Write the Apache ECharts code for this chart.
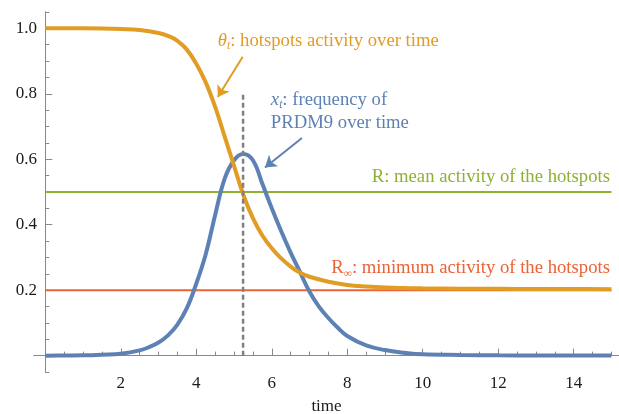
<!DOCTYPE html>
<html>
<head>
<meta charset="utf-8">
<script src="https://cdn.jsdelivr.net/npm/echarts@6/dist/echarts.min.js"></script>
<style>html,body{margin:0;padding:0;background:#fff;}#c{width:619px;height:414px;}</style>
</head>
<body>
<div id="c"></div>
<script>
// ---- data ----
const thetaX = [0, 0.5, 1, 1.5, 2, 2.5, 3, 3.25, 3.5, 3.75, 4, 4.25, 4.5, 4.75, 5, 5.25, 5.5, 5.75, 6, 6.25, 6.5, 6.75, 7, 7.5, 8, 8.5, 9, 10, 11, 12, 13, 14, 15];
const thetaY = [1.0, 1.0, 1.0, 0.9995, 0.998, 0.995, 0.986, 0.977, 0.962, 0.935, 0.892, 0.835, 0.76, 0.67, 0.58, 0.49, 0.42, 0.367, 0.328, 0.297, 0.272, 0.253, 0.241, 0.226, 0.216, 0.211, 0.208, 0.2055, 0.2045, 0.204, 0.2035, 0.2033, 0.2032];
const freqX = [0, 0.5, 1, 1.5, 2, 2.5, 2.75, 3, 3.25, 3.5, 3.75, 4, 4.25, 4.5, 4.75, 5, 5.24, 5.5, 5.75, 6, 6.25, 6.5, 6.75, 7, 7.25, 7.5, 7.75, 8, 8.5, 9, 9.5, 10, 11, 12, 13, 14, 15];
const freqY = [0.0, 0.0005, 0.001, 0.003, 0.006, 0.016, 0.026, 0.04, 0.062, 0.095, 0.145, 0.22, 0.31, 0.43, 0.54, 0.597, 0.616, 0.597, 0.525, 0.45, 0.38, 0.315, 0.255, 0.195, 0.15, 0.115, 0.085, 0.06, 0.031, 0.017, 0.009, 0.004, 0.002, 0.001, 0.0005, 0.0002, 0.0001];
const meanR = 0.5;
const minR = 0.2;
const peakTime = 5.24;
const peakLineTop = 0.8;
const lineSpan = [0, 15];
const xLabelTicks = [2, 4, 6, 8, 10, 12, 14];
const xMinorTicks = [0.5, 1, 1.5, 2, 2.5, 3, 3.5, 4, 4.5, 5, 5.5, 6, 6.5, 7, 7.5, 8, 8.5, 9, 9.5, 10, 10.5, 11, 11.5, 12, 12.5, 13, 13.5, 14, 14.5, 15];
const yLabelTicks = [0.2, 0.4, 0.6, 0.8, 1.0];
const yMinorTicks = [-0.05, 0.05, 0.1, 0.15, 0.2, 0.25, 0.3, 0.35, 0.4, 0.45, 0.5, 0.55, 0.6, 0.65, 0.7, 0.75, 0.8, 0.85, 0.9, 0.95, 1.0, 1.05];
const xAxisName = 'time';

const C_BLUE = '#5E81B5', C_ORANGE = '#E19C24', C_GREEN = '#8FB032', C_RED = '#EB6235';
const FONT = "'Liberation Serif', 'Times New Roman', serif";
const FS = 18.7;   // annotation text
const TFS = 17;    // tick labels

const zip = (xs, ys) => xs.map((x, i) => [x, ys[i]]);

const chart = echarts.init(document.getElementById('c'), null, {renderer: 'canvas'});
const gridBox = {left: 34, right: 0, top: 12, bottom: 42, containLabel: false, outerBoundsMode: 'none'};
const X_MIN = -0.3, X_MAX = 15.2, Y_MIN = -0.05, Y_MAX = 1.05;

function xa(gi, major) {
  return {
    type: 'value', gridIndex: gi, min: X_MIN, max: X_MAX,
    splitLine: {show: false},
    axisLine: {show: true, onZero: true, lineStyle: {color: '#888', width: 1}},
    axisTick: {show: true, inside: true, length: major ? 7 : 4, lineStyle: {color: '#888'},
      customValues: major ? xLabelTicks : xMinorTicks},
    axisLabel: major ? {show: true, customValues: xLabelTicks, margin: 3,
      fontFamily: FONT, fontSize: TFS, color: '#1a1a1a'} : {show: false},
    name: major ? xAxisName : '', nameLocation: 'middle', nameGap: 26,
    nameTextStyle: {fontFamily: FONT, fontSize: TFS, color: '#1a1a1a'}
  };
}
function ya(gi, major) {
  return {
    type: 'value', gridIndex: gi, min: Y_MIN, max: Y_MAX,
    splitLine: {show: false},
    axisLine: {show: true, onZero: true, lineStyle: {color: '#888', width: 1}},
    axisTick: {show: true, inside: true, length: major ? 7 : 4, lineStyle: {color: '#888'},
      customValues: major ? yLabelTicks : yMinorTicks},
    axisLabel: major ? {show: true, customValues: yLabelTicks, margin: -3,
      formatter: v => Number(v).toFixed(1),
      fontFamily: FONT, fontSize: TFS, color: '#1a1a1a'} : {show: false}
  };
}

chart.setOption({
  animation: false,
  backgroundColor: '#fff',
  grid: [Object.assign({}, gridBox), Object.assign({}, gridBox)],
  xAxis: [xa(0, true), xa(1, false)],
  yAxis: [ya(0, true), ya(1, false)],
  series: [
    {type: 'line', name: 'R', data: zip(lineSpan, [meanR, meanR]), showSymbol: false, silent: true,
      lineStyle: {color: C_GREEN, width: 2}, z: 2},
    {type: 'line', name: 'Rinf', data: zip(lineSpan, [minR, minR]), showSymbol: false, silent: true,
      lineStyle: {color: C_RED, width: 2}, z: 2},
    {type: 'line', name: 'x_t', data: zip(freqX, freqY), showSymbol: false, smooth: 0.4,
      silent: true, lineStyle: {color: C_BLUE, width: 4}, z: 3,
      markLine: {silent: true, symbol: ['none', 'arrow'], symbolSize: 11, label: {show: false},
        lineStyle: {color: C_BLUE, width: 2, type: 'solid'},
        data: [[{coord: [6.8, 0.665]}, {coord: [5.82, 0.575]}]]}},
    {type: 'line', name: 'theta_t', data: zip(thetaX, thetaY), showSymbol: false, smooth: 0.4,
      silent: true, lineStyle: {color: C_ORANGE, width: 4}, z: 4,
      markLine: {silent: true, symbol: ['none', 'arrow'], symbolSize: 11, label: {show: false},
        lineStyle: {color: C_ORANGE, width: 2, type: 'solid'},
        data: [[{coord: [5.23, 0.913]}, {coord: [4.57, 0.79]}]]}},
    {type: 'line', name: 'peak', data: [[peakTime, 0], [peakTime, peakLineTop]], showSymbol: false, silent: true,
      lineStyle: {color: '#808080', width: 2.5, type: [5, 3]}, z: 5}
  ]
});

function px(x, y) { return chart.convertToPixel({gridIndex: 0}, [x, y]); }
const p1 = px(4.57, 0.962), p2 = px(5.975, 0.782), p3 = px(5.975, 0.71), p4 = px(14.96, 0.547), p5 = px(14.96, 0.266);
const base = {fontFamily: FONT, fontSize: FS};
const SUB = 11.5;
chart.setOption({
  graphic: [
    {type: 'text', x: p1[0], y: p1[1], silent: true, style: Object.assign({}, base, {
      text: '{i|θ}{s|t}: hotspots activity over time', fill: C_ORANGE, verticalAlign: 'middle', align: 'left',
      rich: {i: {fontFamily: FONT, fontSize: FS, fontStyle: 'italic', fill: C_ORANGE},
             s: {fontFamily: FONT, fontSize: SUB, fontStyle: 'italic', fill: C_ORANGE, padding: [10, 0, 0, 0]}}})},
    {type: 'text', x: p2[0], y: p2[1], silent: true, style: Object.assign({}, base, {
      text: '{i|x}{s|t}: frequency of', fill: C_BLUE, verticalAlign: 'middle', align: 'left',
      rich: {i: {fontFamily: FONT, fontSize: FS, fontStyle: 'italic', fill: C_BLUE},
             s: {fontFamily: FONT, fontSize: SUB, fontStyle: 'italic', fill: C_BLUE, padding: [10, 0, 0, 0]}}})},
    {type: 'text', x: p3[0], y: p3[1], silent: true, style: Object.assign({}, base, {
      text: 'PRDM9 over time', fill: C_BLUE, verticalAlign: 'middle', align: 'left'})},
    {type: 'text', x: p4[0], y: p4[1], silent: true, style: Object.assign({}, base, {
      text: 'R: mean activity of the hotspots', fill: C_GREEN, verticalAlign: 'middle', align: 'right'})},
    {type: 'text', x: p5[0], y: p5[1], silent: true, style: Object.assign({}, base, {
      text: 'R{s|∞}: minimum activity of the hotspots', fill: C_RED, verticalAlign: 'middle', align: 'right',
      rich: {s: {fontFamily: FONT, fontSize: SUB, fill: C_RED, padding: [10, 0, 0, 0]}}})}
  ]
});
</script>
</body>
</html>
